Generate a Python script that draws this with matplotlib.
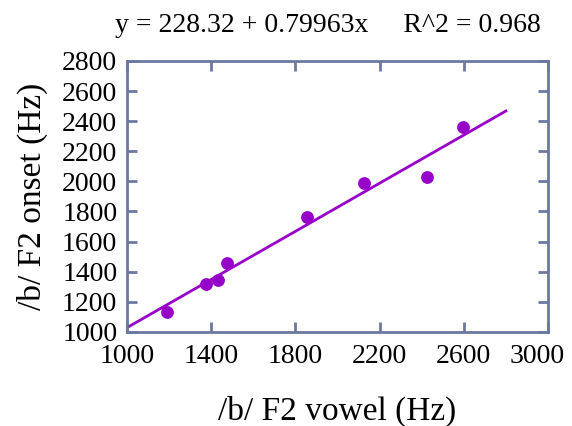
import numpy as np
import matplotlib.pyplot as plt
import matplotlib.transforms as mtransforms

plt.rcParams['font.family'] = ['Liberation Serif', 'DejaVu Serif']

# /b/ F2 vowel vs F2 onset (Hz)
vowel = [1189, 1374, 1434, 1474, 1854, 2127, 2424, 2598]
onset = [1135, 1319, 1345, 1460, 1762, 1992, 2032, 2364]
intercept = 228.32
slope = 0.79963
line_x = [1000, 2800]
xticks = [1000, 1400, 1800, 2200, 2600, 3000]
yticks = [1000, 1200, 1400, 1600, 1800, 2000, 2200, 2400, 2600, 2800]

purple = '#9600c8'
spine = '#6b78a0'

fig = plt.figure(figsize=(5.72, 4.26), dpi=100)
ax = fig.add_axes([0.222, 0.221, 0.736, 0.636])

lx = np.array(line_x)
ax.plot(lx, intercept + slope * lx, color=purple, lw=2)
ax.scatter(vowel, onset, color=purple, s=85, zorder=3, linewidths=0)

ax.set_xlim(1000, 3000)
ax.set_ylim(1000, 2800)
ax.set_xticks(xticks)
ax.set_yticks(yticks)
ax.tick_params(direction='in', length=7, width=2, color=spine,
               top=True, right=True, labelsize=20)
ax.tick_params(axis='x', pad=9)
ax.tick_params(axis='y', pad=7)
for s in ax.spines.values():
    s.set_color(spine)
    s.set_linewidth(2)

# last x label is nudged left so it stays inside the figure
last = ax.get_xticklabels()[-1]
last.set_transform(last.get_transform() +
                   mtransforms.ScaledTranslation(-0.11, 0, fig.dpi_scale_trans))

ax.set_xlabel('/b/ F2 vowel (Hz)', fontsize=24, labelpad=19)
ax.set_ylabel('/b/ F2 onset (Hz)', fontsize=24, labelpad=10)
fig.text(0.573, 0.925, 'y = 228.32 + 0.79963x     R^2 = 0.968',
         fontsize=20, ha='center', va='baseline')

fig.savefig('out.png', dpi=100)
